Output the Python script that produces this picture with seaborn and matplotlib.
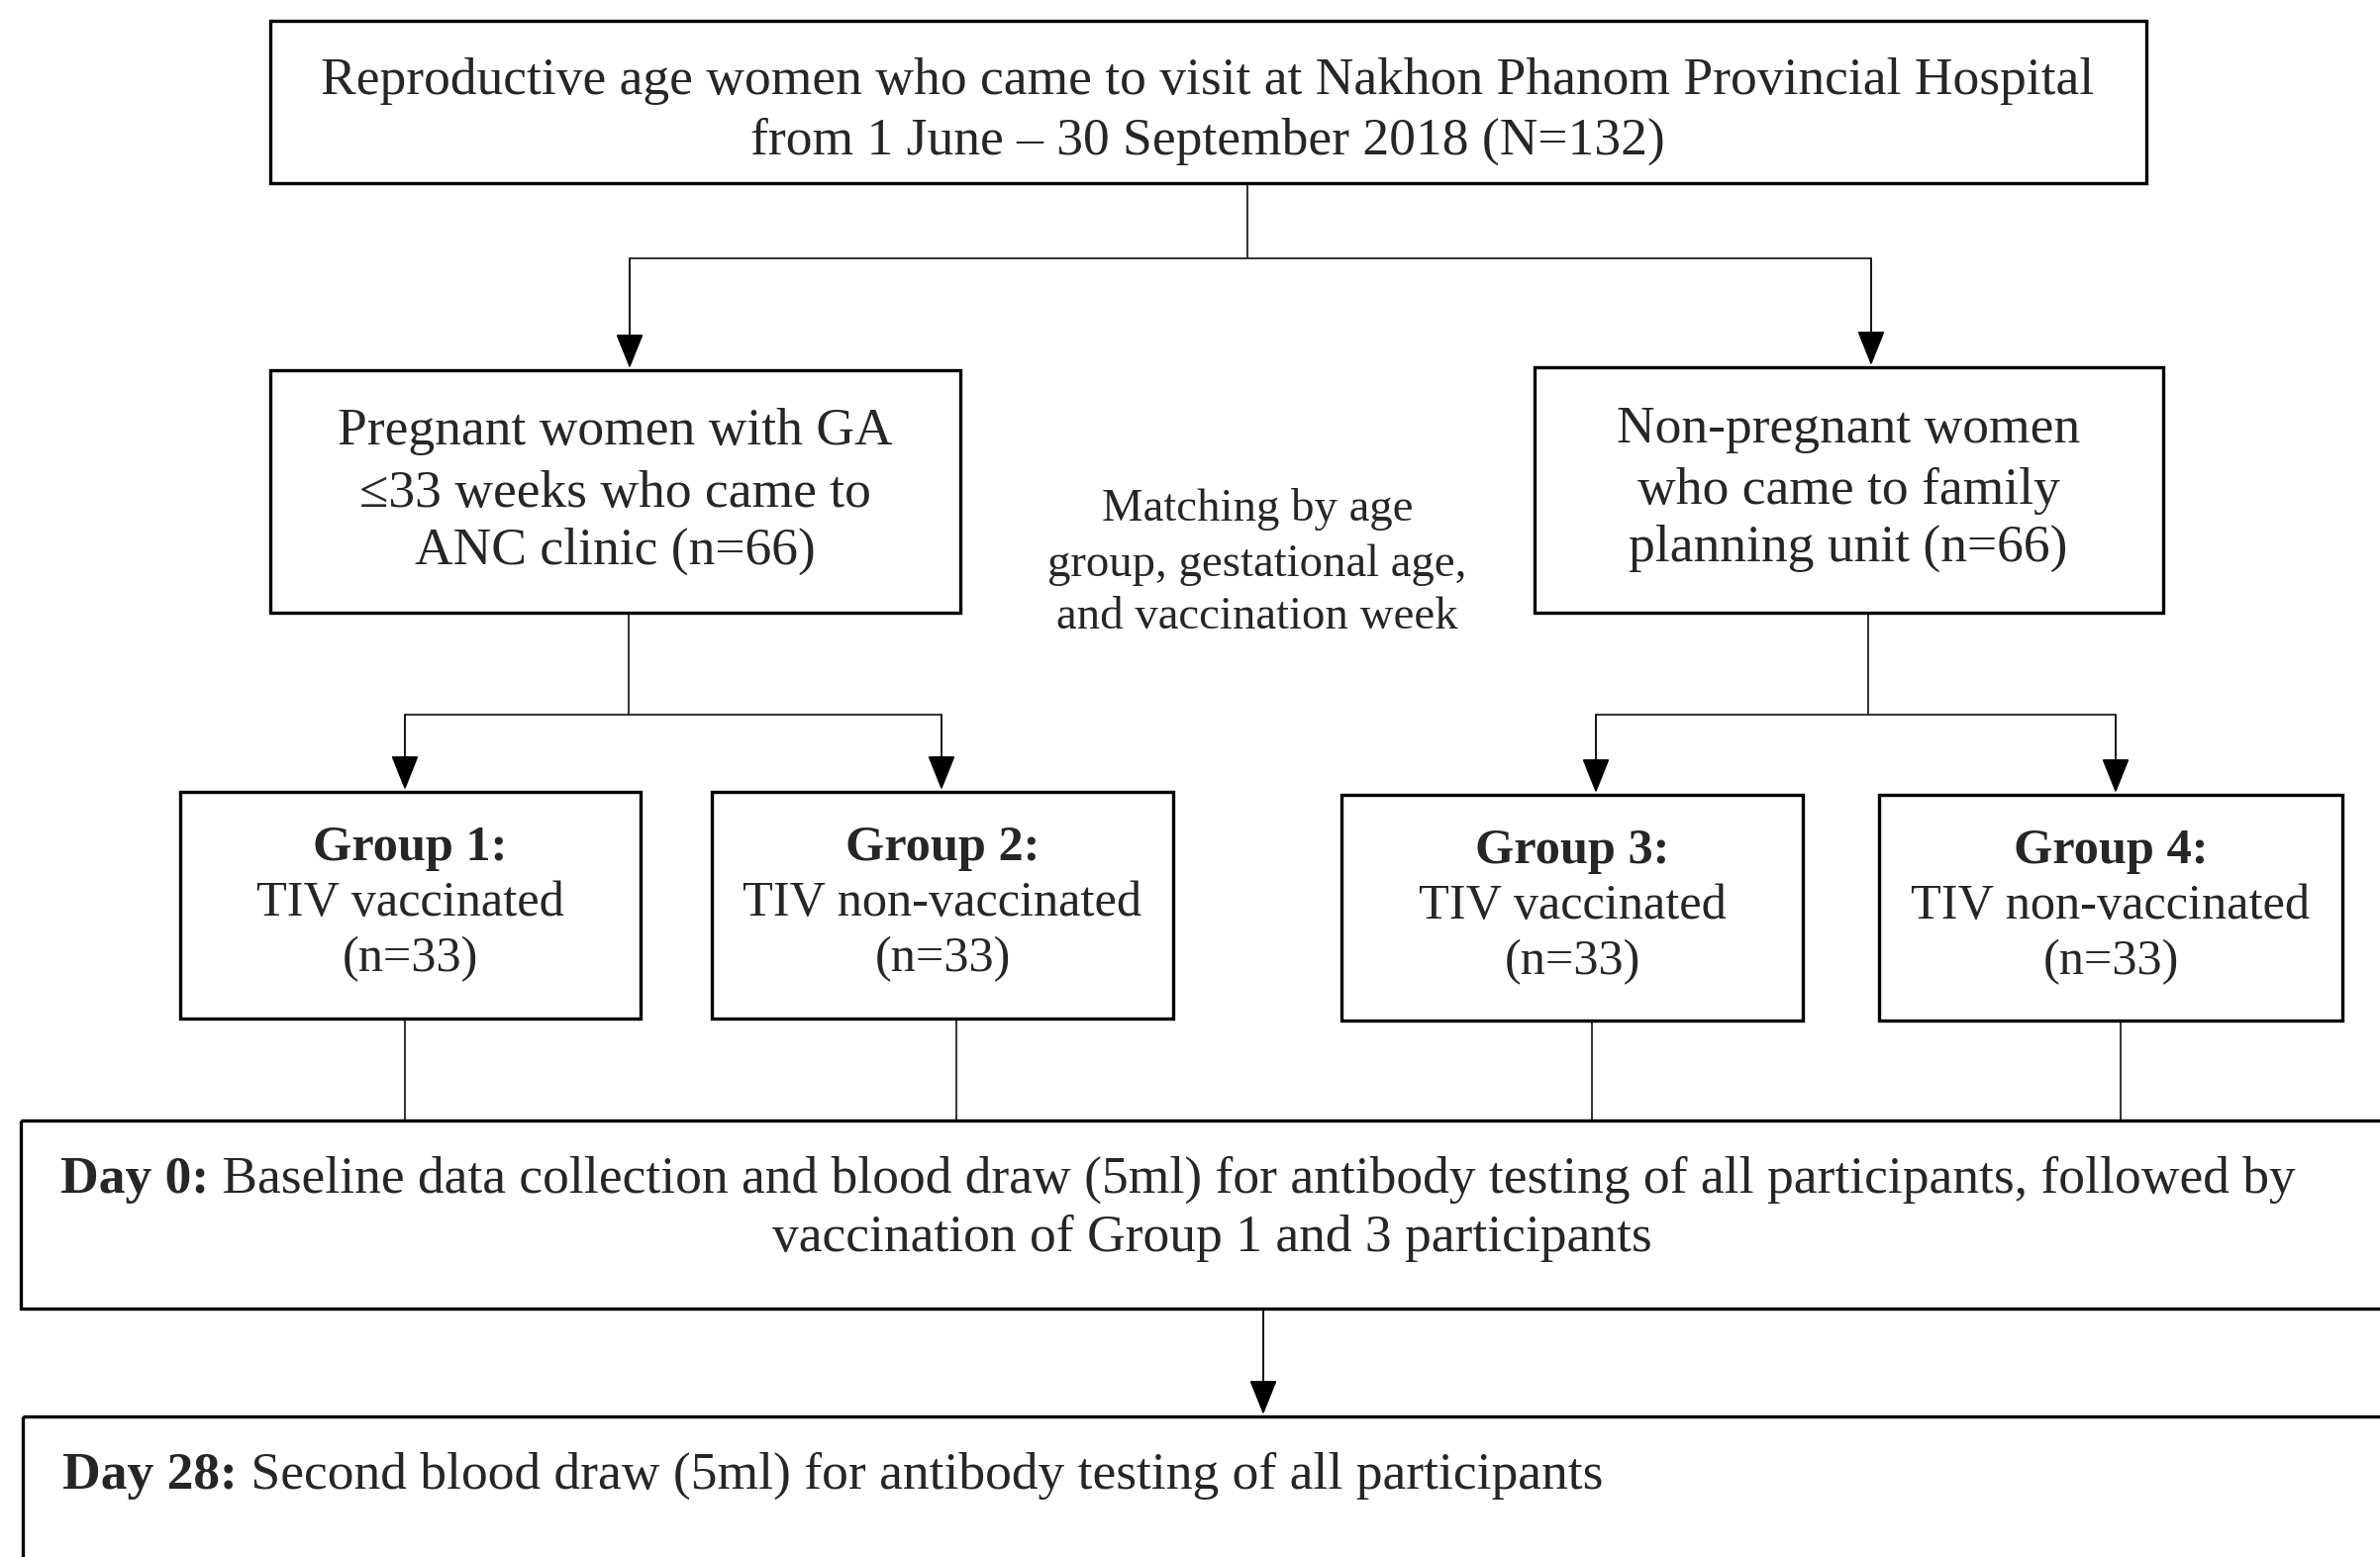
import matplotlib
matplotlib.use('Agg')
import matplotlib.pyplot as plt
import seaborn as sns
from matplotlib.patches import Rectangle

sns.set_theme(style='white')
plt.rcParams['font.family'] = ['Liberation Serif', 'DejaVu Serif']

# Text content
top_lines = ["Reproductive age women who came to visit at Nakhon Phanom Provincial Hospital",
             "from 1 June \u2013 30 September 2018 (N=132)"]
preg_lines = ["Pregnant women with GA", "\u226433 weeks who came to", "ANC clinic (n=66)"]
nonpreg_lines = ["Non-pregnant women", "who came to family", "planning unit (n=66)"]
match_lines = ["Matching by age", "group, gestational age,", "and vaccination week"]
group_titles = ["Group 1:", "Group 2:", "Group 3:", "Group 4:"]
group_desc = ["TIV vaccinated", "TIV non-vaccinated", "TIV vaccinated", "TIV non-vaccinated"]
group_n = [33, 33, 33, 33]
day_labels = ["Day 0:", "Day 28:"]
day0_rest = " Baseline data collection and blood draw (5ml) for antibody testing of all participants, followed by"
day0_line2 = "vaccination of Group 1 and 3 participants"
day28_rest = " Second blood draw (5ml) for antibody testing of all participants"

# Layout (pixels, y downwards)
W, H = 2404, 1573
top_box = (273, 21, 2168, 185)
preg_box = (273, 374, 970, 619)
nonpreg_box = (1550, 371, 2185, 619)
group_boxes = [(182, 800, 647, 1029), (719, 800, 1185, 1029),
               (1355, 803, 1821, 1031), (1898, 803, 2366, 1031)]
day0_box = (21, 1132, 2450, 1322)
day28_box = (23, 1431, 2450, 1650)
arrow_x = [409, 951, 1612, 2137]
drop_x = [409, 966, 1608, 2142]

fig = plt.figure(figsize=(W / 100, H / 100), dpi=100)
ax = fig.add_axes([0, 0, 1, 1])
ax.set_xlim(0, W)
ax.set_ylim(H, 0)
ax.axis('off')

box_lw = 2.4
line_lw = 1.3
line_col = '#222222'
dy = 5  # small downward shift of text


def box(b):
    x0, y0, x1, y1 = b
    ax.add_patch(Rectangle((x0, y0), x1 - x0, y1 - y0, fill=False,
                           edgecolor='black', lw=box_lw, zorder=3))


def line(xs, ys):
    ax.plot(xs, ys, color=line_col, lw=line_lw, solid_capstyle='butt', zorder=2)


def arrow(x, y0, y1):
    ax.annotate('', xy=(x, y1), xytext=(x, y0),
                arrowprops=dict(arrowstyle='-|>,head_length=0.55,head_width=0.22',
                                color='black', lw=line_lw, mutation_scale=40,
                                shrinkA=0, shrinkB=0), zorder=2)


for b in [top_box, preg_box, nonpreg_box, day0_box, day28_box] + group_boxes:
    box(b)

# connectors from top box
line([1260, 1260], [top_box[3], 261])
line([636, 1890], [261, 261])
arrow(636, 261, preg_box[1] - 2)
arrow(1890, 261, nonpreg_box[1] - 2)

# connectors to groups
line([635, 635], [preg_box[3], 722])
line([arrow_x[0], arrow_x[1]], [722, 722])
line([1887, 1887], [nonpreg_box[3], 722])
line([arrow_x[2], arrow_x[3]], [722, 722])
for i, x in enumerate(arrow_x):
    arrow(x, 722, group_boxes[i][1] - 2)
    line([drop_x[i], drop_x[i]], [group_boxes[i][3], day0_box[1]])

arrow(1276, day0_box[3], day28_box[1] - 2)

fs = 38.5
# box texts
for t, y in zip(top_lines, [77, 138]):
    ax.text(1220, y + dy, t, ha='center', va='center', fontsize=fs)
for t, y in zip(preg_lines, [431, 494, 552]):
    ax.text(621, y + dy, t, ha='center', va='center', fontsize=fs)
for t, y in zip(nonpreg_lines, [429, 491, 549]):
    ax.text(1867, y + dy, t, ha='center', va='center', fontsize=fs)
for t, y in zip(match_lines, [510, 566, 619]):
    ax.text(1270, y + dy, t, ha='center', va='center', fontsize=33.7)

gfs = 36.3
for i, b in enumerate(group_boxes):
    cx = (b[0] + b[2]) / 2
    ax.text(cx, b[1] + 52 + dy, group_titles[i], ha='center', va='center', fontsize=gfs, fontweight='bold')
    ax.text(cx, b[1] + 108 + dy, group_desc[i], ha='center', va='center', fontsize=gfs)
    ax.text(cx, b[1] + 164 + dy, f"(n={group_n[i]})", ha='center', va='center', fontsize=gfs)

# Day boxes: bold label followed by regular text
renderer = fig.canvas.get_renderer()
for label, rest, x, y in [(day_labels[0], day0_rest, 61, 1200), (day_labels[1], day28_rest, 63, 1499)]:
    tb = ax.text(x, y + dy, label, ha='left', va='baseline', fontsize=fs, fontweight='bold')
    bb = tb.get_window_extent(renderer=renderer)
    ax.text(bb.x1, y + dy, rest, ha='left', va='baseline', fontsize=fs)
ax.text(1224, 1259 + dy, day0_line2, ha='center', va='baseline', fontsize=fs)

fig.savefig('out.png', dpi=100, facecolor='white')
